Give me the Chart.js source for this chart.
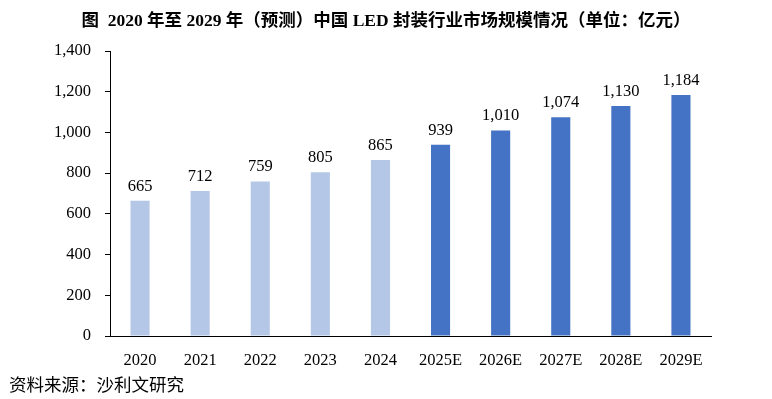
<!DOCTYPE html>
<html><head><meta charset="utf-8">
<script src="https://cdn.jsdelivr.net/npm/chart.js@4.4.1/dist/chart.umd.min.js"></script>
<style>
html,body{margin:0;padding:0;background:#fff;}
#wrap{position:relative;width:772px;height:399px;overflow:hidden;}
#c{position:absolute;left:0;top:0;}
#title{position:absolute;left:0;top:9px;width:772px;text-align:center;font-family:"Liberation Serif","Noto Sans CJK SC",serif;font-weight:bold;font-size:17.5px;line-height:22px;color:#000;white-space:nowrap;}
#src{position:absolute;left:9px;top:374px;font-family:"Liberation Serif","Noto Sans CJK SC",serif;font-size:17.5px;line-height:22px;color:#000;white-space:nowrap;}
</style></head>
<body><div id="wrap">
<canvas id="c" width="772" height="399"></canvas>
<div id="title">图&nbsp; 2020 年至 2029 年（预测）中国 LED 封装行业市场规模情况（单位：亿元）</div>
<div id="src">资料来源：沙利文研究</div>
</div>
<script>
const categories = ["2020","2021","2022","2023","2024","2025E","2026E","2027E","2028E","2029E"];
const values = [665,712,759,805,865,939,1010,1074,1130,1184];
const barColors = ["#B4C7E7","#B4C7E7","#B4C7E7","#B4C7E7","#B4C7E7","#4472C4","#4472C4","#4472C4","#4472C4","#4472C4"];
const yTicks = [0,200,400,600,800,1000,1200,1400];

const fmt = v => v.toLocaleString('en-US');
const serif = '"Liberation Serif","Times New Roman",serif';

const labelPlugin = {
  id:'labels',
  afterDatasetsDraw(chart){
    const ctx = chart.ctx;
    const meta = chart.getDatasetMeta(0);
    ctx.save();
    ctx.font = '16.5px ' + serif;
    ctx.fillStyle = '#000';
    ctx.textAlign = 'center';
    ctx.textBaseline = 'alphabetic';
    meta.data.forEach((bar,i)=>{
      ctx.fillText(fmt(values[i]), bar.x, bar.y - 10);
    });
    ctx.restore();
  }
};

new Chart(document.getElementById('c'),{
  type:'bar',
  data:{labels:categories,datasets:[{data:values,backgroundColor:barColors,borderWidth:0,barPercentage:0.635,categoryPercentage:0.5}]},
  options:{
    responsive:false,animation:false,
    layout:{padding:{top:51,right:61,left:0,bottom:0}},
    plugins:{legend:{display:false},tooltip:{enabled:false},title:{display:false}},
    scales:{
      x:{
        grid:{display:false},
        border:{display:true,color:'#000',width:1},
        ticks:{color:'#000',font:{family:serif,size:16.5},padding:7,maxRotation:0,autoSkip:false},
        afterFit(s){s.height=63;}
      },
      y:{
        min:0,max:1400,
        afterBuildTicks(s){s.ticks = yTicks.map(v=>({value:v}));},
        grid:{display:true,drawOnChartArea:false,drawTicks:true,tickLength:5,color:'#000'},
        border:{display:true,color:'#000',width:1},
        ticks:{color:'#000',font:{family:serif,size:16.5},padding:14,callback:v=>fmt(v)},
        afterFit(s){s.width=110;}
      }
    }
  },
  plugins:[labelPlugin]
});
</script>
</body></html>
